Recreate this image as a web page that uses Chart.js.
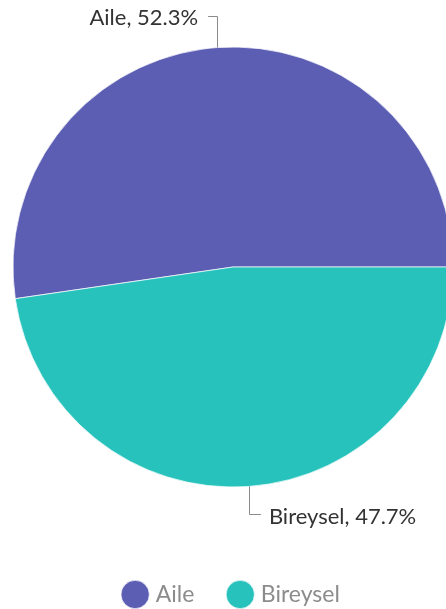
<!DOCTYPE html>
<html>
<head>
<meta charset="utf-8">
<script src="https://cdn.jsdelivr.net/npm/chart.js@4"></script>
<style>
    html, body { margin: 0; padding: 0; background: #fff; overflow: hidden; width: 446px; height: 609px; }
    #wrap { position: absolute; left: 0; top: -12px; width: 466px; height: 628px; }
</style>
</head>
<body>
<div id="wrap"><canvas id="pieChart"></canvas></div>
<script>
const categories = ['Aile', 'Bireysel'];
const shares = [52.3, 47.7];
const colors = ['#5c5eb3', '#27c2bb'];

const total = shares.reduce((sum, v) => sum + v, 0);
const ctx = document.getElementById('pieChart').getContext('2d');

// Draws "Label, value%" next to each slice with an elbow leader line
const sliceLabels = {
    id: 'sliceLabels',
    afterDatasetsDraw(chart) {
        const c = chart.ctx;
        const meta = chart.getDatasetMeta(0);
        c.save();
        c.font = '22px Lato';
        c.textBaseline = 'middle';
        meta.data.forEach((arc, i) => {
            const mid = (arc.startAngle + arc.endAngle) / 2;
            const px = arc.x + Math.cos(mid) * arc.outerRadius;
            const py = arc.y + Math.sin(mid) * arc.outerRadius;
            const up = py < arc.y;
            const ey = up ? py - 32 : py + 28;
            const toLeft = px < arc.x;
            const ex = toLeft ? px - 9 : px + 12;

            c.strokeStyle = '#8a8a8a';
            c.lineWidth = 1;
            c.beginPath();
            c.moveTo(Math.round(px) + 0.5, py);
            c.lineTo(Math.round(px) + 0.5, Math.round(ey) + 0.5);
            c.lineTo(ex, Math.round(ey) + 0.5);
            c.stroke();

            c.fillStyle = '#333333';
            c.textAlign = toLeft ? 'right' : 'left';
            const text = categories[i] + ', ' + shares[i].toFixed(1) + '%';
            c.fillText(text, toLeft ? ex - 10 : ex + 8, ey + 2);
        });
        c.restore();
    }
};

new Chart(ctx, {
    type: 'pie',
    data: {
        labels: categories,
        datasets: [{
            data: shares,
            backgroundColor: colors,
            borderColor: 'rgba(255,255,255,0.7)',
            borderWidth: 1,
            radius: 220,
        }],
    },
    options: {
        responsive: true,
        maintainAspectRatio: false,
        animation: false,
        rotation: 90 - shares[0] / total * 360,
        layout: { padding: 0 },
        plugins: {
            tooltip: { enabled: false },
            legend: {
                position: 'bottom',
                labels: {
                    usePointStyle: true,
                    pointStyle: 'circle',
                    boxWidth: 18,
                    boxHeight: 20,
                    padding: 37,
                    color: '#8c8c8c',
                    font: { family: 'Lato', size: 23 },
                },
            },
        },
    },
    plugins: [sliceLabels],
});
</script>
</body>
</html>
